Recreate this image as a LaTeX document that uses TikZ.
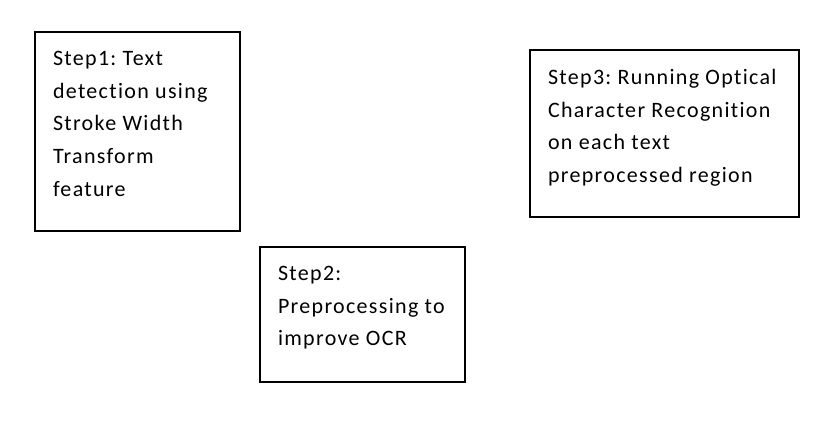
\documentclass[tikz,border=0pt]{standalone}
\usepackage{fontspec}
\setmainfont{Carlito}[Ligatures = NoCommon, LetterSpace = 6]
\frenchspacing
\usetikzlibrary{positioning}

\begin{document}
\begin{tikzpicture}[x = 1pt, y = -1pt, line width = 2pt]
	\tikzstyle{stepbox} = [rectangle, draw = black, anchor = north west, inner sep = 0pt]
	\tikzstyle{steptext} = [anchor = north west, align = left, inner sep = 0pt, font = \fontsize{22}{32.8}\selectfont]
	\useasboundingbox (0,0) rectangle (839,447);
	\node [stepbox, minimum width = 205pt, minimum height = 199pt] (B1) at (34,31) {};
	\node [stepbox, minimum width = 205pt, minimum height = 135pt] (B2) at (259,246) {};
	\node [stepbox, minimum width = 269pt, minimum height = 167pt] (B3) at (529,49) {};
	\node [steptext] (T1) at ([shift = {(18pt,-19pt)}]B1.north west) {Step1: Text\\detection using\\Stroke Width\\Transform\\feature};
	\node [steptext] (T2) at ([shift = {(18pt,-19pt)}]B2.north west) {Step2:\\Preprocessing to\\improve OCR};
	\node [steptext] (T3) at ([shift = {(18pt,-19pt)}]B3.north west) {Step3: Running Optical\\Character Recognition\\on each text\\preprocessed region};
\end{tikzpicture}
\end{document}
